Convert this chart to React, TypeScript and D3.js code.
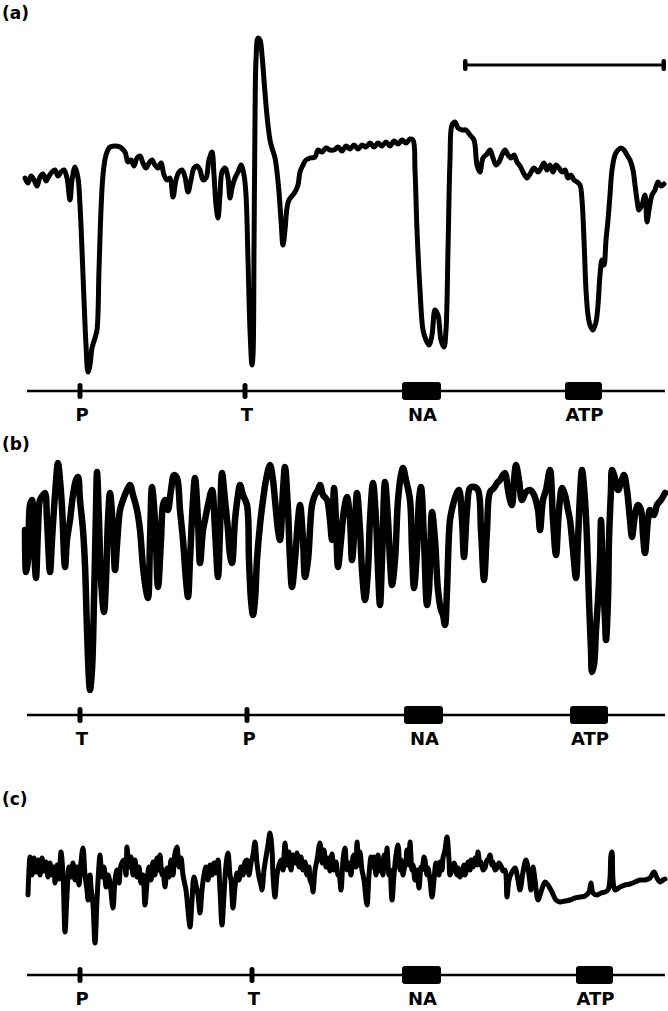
import React from "react";
import * as d3 from "d3";

// time axis: arbitrary units (0..640), response: arbitrary deflection units (0..360)
const traceA: [number, number][] = [
  [0,213],[3,208],[6,215],[9,211],[12,205],[15,214],[18,217],[21,210],[24,215],[27,219],[30,221],[33,215],[36,219],[39,221],[42,213],[45,191],[47,211],[50,224],[53,213],[55,186],[57,141],[59,91],[61,46],[63,19],[65,26],[67,43],[70,53],[72,61],[74,121],[76,181],[78,216],[81,236],[85,244],[90,245],[95,244],[100,239],[103,229],[106,231],[109,225],[112,233],[115,235],[118,228],[121,223],[124,228],[127,231],[130,226],[133,223],[136,228],[139,216],[142,211],[145,213],[148,194],[151,211],[154,219],[157,221],[160,214],[163,199],[166,211],[169,223],[172,225],[175,221],[178,211],[181,213],[184,231],[187,239],[189,216],[191,186],[193,173],[195,196],[197,219],[200,223],[203,213],[205,193],[207,203],[210,213],[213,219],[216,226],[219,216],[221,196],[223,131],[225,61],[227,26],[228,36],[229,141],[230,271],[231,331],[233,353],[235,351],[237,336],[239,311],[241,286],[243,266],[245,251],[247,243],[250,233],[252,219],[254,199],[256,171],[258,146],[260,161],[262,183],[264,191],[267,195],[270,199],[273,206],[275,219],[278,226],[281,231],[285,233],[290,234],[293,241],[297,239],[301,243],[305,241],[309,241],[313,244],[317,240],[321,245],[325,242],[329,246],[333,242],[337,246],[341,244],[345,248],[349,244],[353,248],[357,245],[361,249],[365,245],[369,250],[373,247],[377,251],[381,248],[385,252],[388,251],[390,221],[392,161],[395,101],[398,61],[401,51],[404,46],[407,56],[410,81],[413,76],[416,51],[419,44],[421,61],[423,141],[425,231],[427,266],[430,269],[433,263],[437,261],[441,261],[445,256],[449,251],[452,226],[455,219],[458,233],[462,237],[465,241],[468,233],[471,226],[474,229],[477,236],[480,241],[483,236],[486,233],[489,236],[492,229],[495,225],[498,219],[502,213],[505,217],[509,223],[513,219],[516,223],[519,228],[522,221],[525,226],[528,219],[531,226],[534,223],[537,219],[540,221],[543,213],[546,216],[549,211],[552,209],[555,206],[557,191],[559,151],[561,101],[563,76],[565,66],[568,61],[571,69],[573,86],[575,116],[577,131],[579,126],[581,151],[583,171],[585,196],[587,221],[590,236],[593,241],[596,243],[599,241],[602,236],[605,231],[608,221],[610,206],[612,191],[614,181],[617,186],[620,196],[622,169],[624,181],[627,196],[630,201],[633,209],[636,205],[639,207]
];

const traceB: [number, number][] = [
  [0,185],[1,143],[3,155],[5,210],[7,215],[9,170],[11,137],[13,185],[15,215],[18,220],[20,222],[22,195],[25,143],[27,175],[30,220],[33,252],[35,235],[37,208],[40,148],[42,175],[45,195],[48,220],[51,235],[53,238],[55,215],[58,185],[60,150],[62,85],[64,35],[65,25],[67,45],[69,115],[71,205],[72,243],[74,195],[76,135],[79,103],[81,135],[83,195],[85,222],[88,185],[90,145],[92,170],[95,205],[98,215],[102,225],[105,230],[108,220],[112,205],[115,185],[118,148],[121,125],[123,117],[125,175],[127,228],[130,195],[133,128],[136,175],[138,210],[140,215],[143,205],[146,225],[149,240],[152,237],[155,205],[158,175],[161,135],[163,118],[165,155],[168,215],[170,237],[173,195],[175,152],[178,185],[180,195],[183,210],[187,225],[190,185],[193,138],[195,185],[197,242],[200,215],[203,185],[205,160],[207,152],[210,195],[213,220],[215,230],[218,220],[222,210],[224,155],[226,115],[228,100],[230,115],[232,155],[235,190],[238,215],[241,235],[245,250],[248,235],[250,215],[253,185],[255,175],[258,225],[260,248],[263,205],[265,155],[267,128],[270,155],[273,195],[275,210],[278,175],[280,138],[283,155],[287,210],[290,220],[293,225],[295,230],[298,220],[302,215],[305,195],[307,175],[309,227],[311,195],[313,148],[316,175],[319,205],[322,218],[325,195],[327,155],[330,195],[332,222],[335,185],[337,145],[340,115],[343,145],[345,195],[348,232],[351,195],[353,145],[355,110],[357,155],[360,233],[363,195],[365,155],[367,130],[370,155],[373,215],[376,240],[378,247],[381,235],[385,215],[387,165],[389,127],[392,165],[394,215],[396,228],[399,175],[402,110],[404,125],[407,203],[410,175],[413,125],[416,105],[418,100],[420,90],[422,125],[425,195],[428,210],[431,220],[434,225],[437,195],[439,158],[442,205],[445,227],[449,228],[453,225],[456,185],[459,135],[462,185],[465,223],[469,227],[472,232],[475,235],[478,240],[480,242],[483,225],[485,215],[487,210],[489,235],[491,250],[494,235],[497,215],[501,223],[505,225],[509,220],[513,205],[515,185],[518,215],[521,225],[525,245],[528,195],[531,160],[534,205],[537,227],[540,220],[543,205],[545,195],[548,165],[551,137],[553,175],[555,220],[557,245],[560,215],[562,175],[564,115],[566,65],[567,43],[569,50],[571,85],[573,115],[575,155],[576,195],[578,135],[580,95],[581,75],[583,115],[584,175],[586,225],[587,245],[590,237],[593,225],[596,232],[599,240],[602,225],[605,195],[607,178],[610,200],[613,210],[616,205],[618,180],[620,162],[623,195],[625,205],[629,200],[632,210],[636,215],[640,222]
];

const traceC: [number, number][] = [
  [3,80],[4,105],[5,118],[7,100],[9,117],[11,103],[13,115],[15,100],[17,117],[19,104],[21,113],[23,98],[25,112],[27,100],[29,108],[30,92],[32,110],[34,96],[36,123],[38,100],[40,43],[42,80],[44,108],[46,98],[48,112],[50,95],[52,108],[54,90],[56,113],[58,127],[60,100],[62,85],[63,75],[65,100],[66,88],[68,70],[70,32],[72,75],[74,110],[75,120],[77,98],[79,108],[81,88],[83,100],[85,92],[88,67],[90,95],[92,105],[94,92],[96,110],[99,115],[101,100],[102,128],[104,108],[106,118],[108,100],[110,115],[112,98],[114,108],[116,92],[118,100],[120,70],[122,92],[124,108],[126,95],[128,113],[130,100],[132,117],[134,105],[135,120],[137,100],[138,105],[140,88],[142,107],[144,98],[146,115],[148,100],[150,122],[152,128],[154,108],[156,117],[158,100],[160,90],[161,85],[163,65],[165,48],[167,75],[169,98],[171,90],[173,80],[175,62],[177,85],[179,100],[181,108],[183,95],[185,110],[187,100],[189,112],[191,102],[193,115],[195,85],[197,50],[199,80],[201,110],[203,122],[205,100],[206,95],[208,67],[210,88],[212,102],[214,95],[216,108],[218,100],[220,113],[222,115],[224,100],[226,112],[228,120],[230,133],[232,112],[234,98],[236,90],[237,85],[239,105],[241,118],[243,130],[245,142],[247,125],[248,100],[250,78],[252,100],[254,110],[256,115],[258,105],[260,132],[262,110],[264,123],[266,105],[268,120],[270,112],[272,122],[274,108],[276,118],[278,105],[280,113],[282,100],[284,108],[285,95],[287,90],[288,83],[290,105],[292,115],[295,132],[297,112],[299,125],[301,108],[303,117],[305,104],[307,121],[309,105],[311,113],[313,100],[314,100],[316,85],[318,115],[320,127],[322,105],[324,112],[326,100],[328,118],[329,120],[331,108],[332,133],[334,110],[335,123],[337,105],[339,95],[342,70],[344,100],[346,118],[347,108],[349,118],[351,100],[353,120],[355,104],[356,113],[358,100],[359,120],[361,108],[362,127],[364,100],[365,105],[367,75],[369,100],[371,120],[373,130],[375,105],[376,115],[378,100],[379,105],[381,115],[382,125],[384,110],[385,133],[387,105],[388,110],[390,95],[392,105],[394,87],[396,108],[397,105],[399,118],[400,115],[402,100],[403,107],[405,95],[407,78],[409,95],[411,112],[412,110],[414,100],[415,113],[417,105],[418,117],[420,125],[422,138],[424,115],[425,100],[427,105],[429,112],[430,110],[432,100],[433,107],[435,98],[437,103],[439,110],[440,100],[442,108],[443,113],[445,105],[446,115],[448,108],[450,117],[452,110],[453,123],[455,110],[456,113],[458,105],[460,107],[462,115],[463,115],[465,120],[467,110],[468,113],[470,105],[472,107],[474,112],[476,109],[478,104],[480,105],[482,78],[484,95],[487,103],[490,107],[493,95],[495,85],[498,103],[501,115],[504,100],[506,85],[508,108],[510,95],[513,75],[516,83],[520,93],[523,90],[527,83],[531,75],[535,73],[540,74],[545,75],[550,77],[555,78],[560,79],[564,83],[566,92],[568,82],[572,80],[576,82],[580,83],[583,85],[585,97],[586,120],[587,123],[588,95],[590,85],[595,88],[600,90],[605,91],[610,93],[615,95],[620,95],[625,97],[629,103],[632,97],[635,93],[638,95],[640,96]
];

type Ev = { label: string; start: number; end: number };
const eventsA: Ev[] = [
  { label: "P", start: 55, end: 55 },
  { label: "T", start: 220, end: 220 },
  { label: "NA", start: 377, end: 416 },
  { label: "ATP", start: 540, end: 577 },
];
const eventsB: Ev[] = [
  { label: "T", start: 55, end: 55 },
  { label: "P", start: 222, end: 222 },
  { label: "NA", start: 379, end: 418 },
  { label: "ATP", start: 545, end: 583 },
];
const eventsC: Ev[] = [
  { label: "P", start: 55, end: 55 },
  { label: "T", start: 227, end: 227 },
  { label: "NA", start: 377, end: 416 },
  { label: "ATP", start: 551, end: 588 },
];

const scaleBarA: [number, number] = [440, 639];

const W = 668;
const H = 1011;
const FONT = "'DejaVu Sans', 'Liberation Sans', sans-serif";

const xScale = d3.scaleLinear().domain([0, 640]).range([25, 665]);

type Panel = {
  label: string;
  labelY: number;
  base: number;
  trace: [number, number][];
  events: Ev[];
  stroke: number;
};

const panels: Panel[] = [
  { label: "(a)", labelY: 19, base: 391, trace: traceA, events: eventsA, stroke: 5 },
  { label: "(b)", labelY: 450, base: 715, trace: traceB, events: eventsB, stroke: 6.5 },
  { label: "(c)", labelY: 805, base: 975, trace: traceC, events: eventsC, stroke: 5 },
];

function PanelView({ p }: { p: Panel }) {
  const y = d3.scaleLinear().domain([0, 360]).range([p.base, p.base - 360]);
  const line = d3
    .line<[number, number]>()
    .x((d) => xScale(d[0]))
    .y((d) => y(d[1]))
    .curve(d3.curveCatmullRom.alpha(0.5));
  const yb = y(0);
  return (
    <g>
      <text x={2} y={p.labelY} fontFamily={FONT} fontWeight="bold" fontSize={17} fill="#000">
        {p.label}
      </text>
      <path
        d={line(p.trace) || ""}
        fill="none"
        stroke="#000"
        strokeWidth={p.stroke}
        strokeLinejoin="round"
        strokeLinecap="round"
      />
      <line x1={xScale(2)} x2={xScale(640)} y1={yb} y2={yb} stroke="#000" strokeWidth={2.5} />
      {p.events.map((e, i) => {
        const isBlock = e.end > e.start;
        const cx = (xScale(e.start) + xScale(e.end)) / 2;
        return (
          <g key={i}>
            {isBlock ? (
              <rect
                x={xScale(e.start)}
                width={xScale(e.end) - xScale(e.start)}
                y={yb - 9}
                height={18}
                rx={3}
                fill="#000"
              />
            ) : (
              <rect x={cx - 2.5} width={5} y={yb - 8} height={16} rx={2.5} fill="#000" />
            )}
            <text
              x={cx + (isBlock ? 1 : 2)}
              y={yb + 30}
              textAnchor="middle"
              fontFamily={FONT}
              fontWeight="bold"
              fontSize={18}
              fill="#000"
            >
              {e.label}
            </text>
          </g>
        );
      })}
    </g>
  );
}

export default function App() {
  const sbY = 65;
  return (
    <div style={{ position: "absolute", left: 0, top: 0 }}>
      <svg width={W} height={H} viewBox={`0 0 ${W} ${H}`} style={{ display: "block", background: "#fff" }}>
        <rect x={0} y={0} width={W} height={H} fill="#fff" />
        {panels.map((p, i) => (
          <PanelView key={i} p={p} />
        ))}
        <line x1={xScale(scaleBarA[0])} x2={xScale(scaleBarA[1])} y1={sbY} y2={sbY} stroke="#000" strokeWidth={3} />
        <rect x={xScale(scaleBarA[0]) - 2} y={sbY - 6} width={4.5} height={12} rx={2} fill="#000" />
        <rect x={xScale(scaleBarA[1]) - 2.5} y={sbY - 6} width={4.5} height={12} rx={2} fill="#000" />
      </svg>
    </div>
  );
}
